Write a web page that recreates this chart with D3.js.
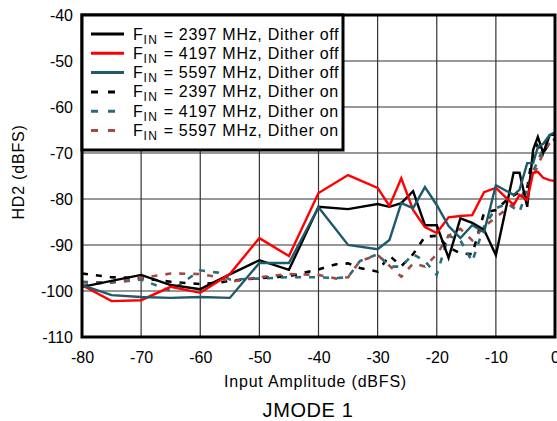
<!DOCTYPE html>
<html>
<head>
<meta charset="utf-8">
<script src="https://cdn.jsdelivr.net/npm/d3@7"></script>
<style>
  body { margin: 0; background: #fff; }
  text { font-family: "Liberation Sans", Arial, sans-serif; fill: #000; }
</style>
</head>
<body>
<svg width="557" height="421"></svg>
<script>
// x values (input amplitude, dBFS)
var xOff = [-80, -75, -70, -65, -60, -55, -50, -45, -40, -35, -30, -28, -26, -24, -22, -20, -18, -16, -14, -12, -10, -7, -6, -4.7, -3.7, -2.9, -2, -0.9, 0];
var off2397 = [-99.1, -97.8, -96.5, -98.7, -99.6, -96.4, -93.3, -95.4, -81.7, -82.2, -81.1, -81.7, -80.9, -78.3, -85.7, -85.7, -92.8, -84.2, -85.2, -86.7, -92.2, -74.3, -74.3, -81.7, -69.3, -66.5, -70, -66.1, -66];
var off4197 = [-98.7, -102.2, -102, -99.1, -100.4, -96.3, -88.5, -92.4, -78.7, -74.8, -77.6, -81.5, -75.5, -82.4, -86.1, -87.4, -84, -83.7, -83.5, -78.5, -77.6, -81.3, -79.1, -80.2, -74.3, -74.1, -75.4, -75.9, -76.1];
var off5597 = [-98.7, -100.9, -101.3, -101.5, -101.3, -101.5, -93.9, -93.9, -81.8, -90, -90.9, -88.9, -80.9, -82, -77.4, -81.3, -85.9, -88.5, -85.7, -87.2, -77, -79.1, -78, -72.2, -72.2, -68.7, -68, -66.1, -65.5];

var xOn = [-80, -75, -70, -65, -60, -57, -55, -50, -45, -40, -37, -35, -33, -30, -28, -26, -24, -22, -20, -18, -16, -14, -12, -10, -8, -6, -5, -4, -3, -2, -1, 0];
var on2397 = [-96.2, -97, -97.2, -98, -98.5, -98.2, -97.8, -97.2, -96.8, -95.3, -94.2, -94, -95, -95.8, -92.3, -94.6, -92, -88.2, -88, -90.5, -91.8, -92, -83, -82.4, -80, -78.5, -80, -72, -68.3, -70, -68, -67];
var on4197 = [-98, -98.2, -97.5, -100, -95.5, -96, -97.5, -97.3, -97, -97, -97.2, -97, -93.5, -92, -94.7, -94.7, -92, -93.5, -96.5, -88, -89, -93.6, -86, -82, -81, -82.8, -79, -74.8, -72, -69, -66.7, -66];
var on5597 = [-98.7, -98, -97.2, -96.2, -96.3, -97, -98, -97, -96.3, -96.5, -97.3, -97, -93.5, -92.2, -94.5, -96.9, -94, -94.7, -92, -88, -86.5, -89, -86, -84, -82, -80, -78, -76, -73, -70, -68, -67];

var xTicks = [-80, -70, -60, -50, -40, -30, -20, -10, 0];
var yTicks = [-40, -50, -60, -70, -80, -90, -100, -110];

var series = [
  {freq: "2397", dither: "off", xs: xOff, ys: off2397, color: "#000000", dash: null},
  {freq: "4197", dither: "off", xs: xOff, ys: off4197, color: "#ff0000", dash: null},
  {freq: "5597", dither: "off", xs: xOff, ys: off5597, color: "#1e5a6a", dash: null},
  {freq: "2397", dither: "on", xs: xOn, ys: on2397, color: "#000000", dash: "6,8"},
  {freq: "4197", dither: "on", xs: xOn, ys: on4197, color: "#2a6c7c", dash: "6,8"},
  {freq: "5597", dither: "on", xs: xOn, ys: on5597, color: "#a24a46", dash: "6,8"}
];

var svg = d3.select("svg");
var pLeft = 82, pRight = 555, pTop = 15, pBottom = 337;

var x = d3.scaleLinear().domain([-80, 0]).range([pLeft, pRight]);
var y = d3.scaleLinear().domain([-110, -40]).range([pBottom, pTop]);

// grid
var grid = svg.append("g");
grid.selectAll("line.v").data(xTicks.slice(1, -1)).enter().append("line")
  .attr("x1", function(d) { return x(d); }).attr("x2", function(d) { return x(d); })
  .attr("y1", pTop).attr("y2", pBottom)
  .attr("stroke", "#333").attr("stroke-width", 1.2);
grid.selectAll("line.h").data(yTicks.slice(1, -1)).enter().append("line")
  .attr("y1", function(d) { return y(d); }).attr("y2", function(d) { return y(d); })
  .attr("x1", pLeft).attr("x2", pRight)
  .attr("stroke", "#333").attr("stroke-width", 1.2);

// lines
var line = d3.line().x(function(d) { return x(d[0]); }).y(function(d) { return y(d[1]); });
svg.append("clipPath").attr("id", "clip").append("rect")
  .attr("x", pLeft).attr("y", pTop).attr("width", pRight - pLeft + 2).attr("height", pBottom - pTop);
var plot = svg.append("g").attr("clip-path", "url(#clip)");
// dashed first, solid on top
[3, 4, 5, 0, 1, 2].forEach(function(i) {
  var s = series[i];
  plot.append("path")
    .datum(d3.zip(s.xs, s.ys))
    .attr("d", line)
    .attr("fill", "none")
    .attr("stroke", s.color)
    .attr("stroke-width", s.dash ? 2.6 : 2.4)
    .attr("stroke-dasharray", s.dash)
    .attr("stroke-linejoin", "miter");
});

// axes
var fmt = function(d) { return String(d); };
var xAxis = d3.axisBottom(x).tickValues(xTicks).tickSize(0).tickPadding(15).tickFormat(fmt);
var yAxis = d3.axisLeft(y).tickValues(yTicks).tickSize(0).tickPadding(9).tickFormat(fmt);
var gx = svg.append("g").attr("transform", "translate(0," + pBottom + ")").call(xAxis);
var gy = svg.append("g").attr("transform", "translate(" + pLeft + ",0)").call(yAxis);
[gx, gy].forEach(function(g) {
  g.select(".domain").remove();
  g.selectAll("text").style("font-size", "16px").attr("fill", "#000");
});

// frame
svg.append("rect").attr("x", pLeft).attr("y", pTop)
  .attr("width", pRight - pLeft).attr("height", pBottom - pTop)
  .attr("fill", "none").attr("stroke", "#000").attr("stroke-width", 3);

// legend
var lg = svg.append("g");
lg.append("rect").attr("x", pLeft).attr("y", pTop).attr("width", 261).attr("height", 135)
  .attr("fill", "#fff").attr("stroke", "#000").attr("stroke-width", 3);
series.forEach(function(s, i) {
  var ly = 34 + i * 19.3;
  lg.append("line").attr("x1", 91).attr("x2", 124).attr("y1", ly).attr("y2", ly)
    .attr("stroke", s.color).attr("stroke-width", 3)
    .attr("stroke-dasharray", s.dash ? "7,10" : null);
  var t = lg.append("text").attr("x", 133).attr("y", ly + 5.5)
    .style("font-size", "16px").style("letter-spacing", "0.7px");
  t.append("tspan").text("F");
  t.append("tspan").attr("dy", 4).style("font-size", "12px").style("letter-spacing", "1.5px").text("IN");
  t.append("tspan").attr("dy", -4).text(" = " + s.freq + " MHz, Dither " + s.dither);
});

// titles
svg.append("text").attr("x", (pLeft + pRight) / 2 - 3).attr("y", 387)
  .attr("text-anchor", "middle").style("font-size", "16px").style("letter-spacing", "0.8px")
  .text("Input Amplitude (dBFS)");
svg.append("text").attr("transform", "translate(24," + 172 + ") rotate(-90)")
  .attr("text-anchor", "middle").style("font-size", "16px").style("letter-spacing", "0.8px")
  .text("HD2 (dBFS)");
svg.append("text").attr("x", 308).attr("y", 417)
  .attr("text-anchor", "middle").style("font-size", "20px").style("letter-spacing", "0.6px")
  .text("JMODE 1");
</script>
</body>
</html>
